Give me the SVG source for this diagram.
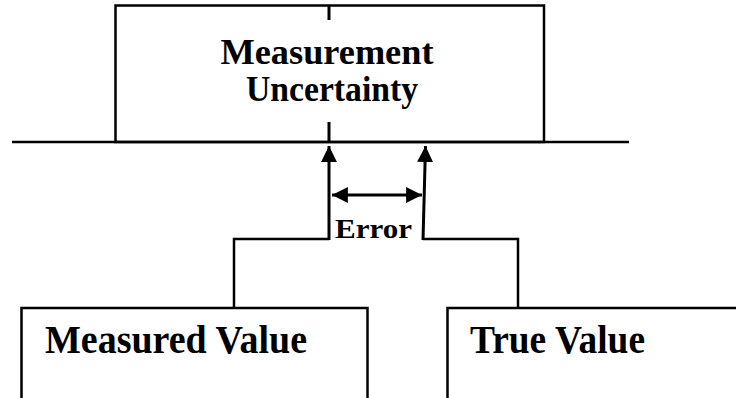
<svg xmlns="http://www.w3.org/2000/svg" width="736" height="398" viewBox="0 0 736 398">
<style>
.box{fill:#fff;stroke:#000;stroke-width:2.5}
.ln{fill:none;stroke:#000;stroke-width:2.5}
.ar{fill:none;stroke:#000;stroke-width:3}
.t{font-family:"Liberation Serif","Times New Roman",serif;font-weight:bold;fill:#000}
</style>
<defs>
<marker id="ah" viewBox="0 0 10 10" refX="10" refY="5" markerWidth="5.3" markerHeight="5.3" markerUnits="strokeWidth" orient="auto-start-reverse">
<path d="M0,0 L10,5 L0,10 Z" fill="#000"/>
</marker>
</defs>
<g id="measurement-uncertainty">
<rect class="box" x="115.5" y="5.5" width="428.5" height="136.5"/>
<text class="t" x="327" y="64" font-size="35" text-anchor="middle" textLength="213" lengthAdjust="spacingAndGlyphs">Measurement</text>
<text class="t" x="332" y="101" font-size="35" text-anchor="middle" textLength="172" lengthAdjust="spacingAndGlyphs">Uncertainty</text>
</g>
<g id="measured-value">
<rect class="box" x="21.5" y="308" width="346" height="100"/>
<text class="t" x="45" y="353" font-size="41" textLength="262" lengthAdjust="spacingAndGlyphs">Measured Value</text>
</g>
<g id="true-value">
<rect class="box" x="447.5" y="308" width="300" height="100"/>
<text class="t" x="470" y="353" font-size="41" textLength="175" lengthAdjust="spacingAndGlyphs">True Value</text>
</g>
<g id="connectors">
<line class="ln" x1="12" y1="142" x2="629" y2="142"/>
<line class="ar" x1="329" y1="5" x2="329" y2="20"/>
<line class="ar" x1="329" y1="122" x2="329" y2="142"/>
<polyline class="ln" points="234,308 234,239 329,239"/>
<line class="ar" x1="329" y1="240" x2="329" y2="146" marker-end="url(#ah)"/>
<polyline class="ln" points="518,308 518,239 423,239"/>
<line class="ar" x1="423" y1="240" x2="425.5" y2="146" marker-end="url(#ah)"/>
<line class="ar" x1="332" y1="195" x2="422" y2="195" marker-start="url(#ah)" marker-end="url(#ah)"/>
</g>
<text class="t" x="335" y="238" font-size="27" textLength="77" lengthAdjust="spacingAndGlyphs">Error</text>
</svg>
